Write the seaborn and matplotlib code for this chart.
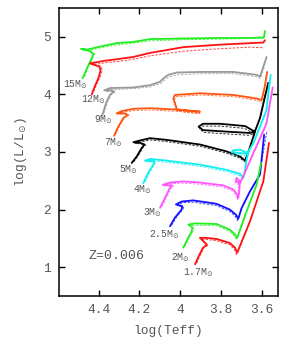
import matplotlib
matplotlib.use('Agg')
import matplotlib.pyplot as plt
import seaborn as sns

# evolutionary tracks, log(Teff) / log(L/Lsun), solid + dashed model
t15 = [4.479, 4.457, 4.438, 4.426, 4.448, 4.487, 4.453, 4.394, 4.312, 4.232, 4.148, 3.986, 3.805, 3.658, 3.589, 3.584]
l15 = [4.28, 4.46, 4.60, 4.70, 4.76, 4.79, 4.78, 4.83, 4.89, 4.91, 4.96, 4.97, 4.98, 4.98, 4.99, 5.10]
t15d = [4.470, 4.450, 4.430, 4.420, 4.440, 4.480, 4.445, 4.390, 4.310, 4.230, 4.148, 3.986, 3.805, 3.658, 3.592]
l15d = [4.31, 4.48, 4.62, 4.71, 4.75, 4.77, 4.76, 4.81, 4.86, 4.89, 4.93, 4.95, 4.96, 4.97, 4.97]

t12 = [4.434, 4.418, 4.402, 4.391, 4.396, 4.443, 4.408, 4.379, 4.312, 4.230, 4.148, 3.985, 3.821, 3.657, 3.592, 3.584]
l12 = [4.00, 4.15, 4.28, 4.41, 4.48, 4.54, 4.56, 4.58, 4.61, 4.65, 4.72, 4.82, 4.86, 4.89, 4.90, 4.94]
t12d = [4.425, 4.408, 4.392, 4.383, 4.39, 4.435, 4.40, 4.37, 4.31, 4.23, 4.148, 3.985, 3.821, 3.657, 3.595]
l12d = [4.05, 4.19, 4.31, 4.43, 4.49, 4.52, 4.53, 4.55, 4.57, 4.61, 4.67, 4.75, 4.79, 4.82, 4.81]

t9 = [4.382, 4.364, 4.345, 4.325, 4.336, 4.373, 4.345, 4.230, 4.148, 4.099, 4.075, 4.058, 4.017, 3.903, 3.739, 3.625, 3.608, 3.592, 3.576]
l9 = [3.64, 3.85, 3.99, 4.05, 4.07, 4.07, 4.11, 4.12, 4.16, 4.22, 4.30, 4.34, 4.38, 4.39, 4.39, 4.34, 4.31, 4.48, 4.65]
t9d = [4.375, 4.357, 4.338, 4.320, 4.33, 4.365, 4.34, 4.23, 4.148, 4.095, 4.07, 4.05, 4.01, 3.90, 3.74, 3.63, 3.605, 3.59, 3.58]
l9d = [3.67, 3.87, 4.00, 4.04, 4.05, 4.05, 4.08, 4.10, 4.13, 4.19, 4.27, 4.31, 4.34, 4.36, 4.36, 4.31, 4.28, 4.45, 4.60]

t7 = [4.325, 4.304, 4.279, 4.258, 4.271, 4.312, 4.287, 4.230, 4.148, 3.985, 3.903, 3.952, 4.017, 4.034, 4.026, 3.903, 3.739, 3.625, 3.600, 3.584, 3.573]
l7 = [3.28, 3.44, 3.59, 3.64, 3.67, 3.67, 3.71, 3.75, 3.76, 3.73, 3.70, 3.71, 3.74, 3.93, 3.99, 4.02, 3.99, 3.93, 3.90, 4.15, 4.39]
t7d = [4.318, 4.297, 4.272, 4.252, 4.265, 4.305, 4.282, 4.228, 4.148, 3.985, 3.903, 3.952, 4.012, 4.028, 4.020, 3.903, 3.739, 3.628, 3.603, 3.588, 3.578]
l7d = [3.30, 3.46, 3.60, 3.64, 3.66, 3.66, 3.69, 3.72, 3.73, 3.70, 3.67, 3.68, 3.71, 3.91, 3.96, 3.99, 3.96, 3.90, 3.87, 4.10, 4.30]

t5 = [4.238, 4.214, 4.189, 4.175, 4.197, 4.230, 4.197, 4.148, 4.066, 3.903, 3.772, 3.706, 3.681, 3.662, 3.633, 3.681, 3.805, 3.888, 3.910, 3.888, 3.756, 3.657, 3.633, 3.608, 3.568]
l5 = [2.81, 2.92, 3.07, 3.13, 3.16, 3.17, 3.20, 3.24, 3.21, 3.13, 3.01, 2.92, 2.85, 3.04, 3.35, 3.45, 3.49, 3.49, 3.44, 3.38, 3.35, 3.33, 3.36, 3.59, 4.20]
t5d = [4.228, 4.205, 4.182, 4.170, 4.190, 4.222, 4.190, 4.148, 4.066, 3.903, 3.772, 3.706, 3.684, 3.665, 3.636, 3.684, 3.805, 3.888, 3.905, 3.885, 3.756, 3.662, 3.640, 3.615, 3.580]
l5d = [2.83, 2.94, 3.08, 3.12, 3.14, 3.15, 3.18, 3.21, 3.18, 3.10, 2.98, 2.89, 2.83, 3.01, 3.31, 3.41, 3.45, 3.45, 3.40, 3.34, 3.31, 3.29, 3.31, 3.52, 4.05]

t4 = [4.181, 4.157, 4.132, 4.127, 4.173, 4.148, 4.066, 3.903, 3.772, 3.706, 3.690, 3.681, 3.674, 3.666, 3.707, 3.739, 3.747, 3.707, 3.674, 3.641, 3.576, 3.556]
l4 = [2.46, 2.64, 2.78, 2.84, 2.85, 2.88, 2.85, 2.78, 2.69, 2.62, 2.55, 2.69, 2.87, 2.98, 3.04, 3.03, 3.00, 2.98, 2.97, 3.15, 3.73, 4.34]
t4d = [4.172, 4.148, 4.125, 4.120, 4.165, 4.140, 4.066, 3.903, 3.772, 3.708, 3.694, 3.685, 3.678, 3.670, 3.710, 3.742, 3.750, 3.710, 3.678, 3.646, 3.582, 3.565]
l4d = [2.48, 2.65, 2.79, 2.83, 2.83, 2.85, 2.82, 2.75, 2.66, 2.59, 2.52, 2.66, 2.84, 2.95, 3.00, 2.99, 2.96, 2.94, 2.93, 3.10, 3.65, 4.20]

t3 = [4.099, 4.075, 4.050, 4.040, 4.086, 4.050, 3.985, 3.903, 3.789, 3.739, 3.720, 3.715, 3.710, 3.707, 3.724, 3.726, 3.707, 3.690, 3.641, 3.576, 3.546]
l3 = [2.03, 2.20, 2.38, 2.42, 2.43, 2.47, 2.49, 2.47, 2.42, 2.35, 2.26, 2.20, 2.32, 2.49, 2.55, 2.49, 2.46, 2.58, 2.98, 3.50, 4.12]
t3d = [4.090, 4.066, 4.042, 4.033, 4.078, 4.044, 3.985, 3.903, 3.789, 3.742, 3.724, 3.719, 3.714, 3.711, 3.728, 3.730, 3.711, 3.695, 3.646, 3.582, 3.552]
l3d = [2.05, 2.22, 2.39, 2.41, 2.41, 2.45, 2.46, 2.44, 2.39, 2.32, 2.23, 2.17, 2.29, 2.46, 2.52, 2.46, 2.43, 2.55, 2.93, 3.42, 4.00]

t25 = [4.050, 4.026, 3.993, 3.990, 4.021, 3.993, 3.936, 3.821, 3.756, 3.726, 3.715, 3.698, 3.657, 3.608, 3.588]
l25 = [1.71, 1.86, 2.00, 2.06, 2.09, 2.14, 2.16, 2.10, 2.00, 1.91, 1.84, 2.03, 2.32, 2.61, 3.30]
t25d = [4.042, 4.018, 3.986, 3.984, 4.014, 3.988, 3.936, 3.821, 3.756, 3.729, 3.719, 3.702, 3.661, 3.612, 3.575]
l25d = [1.73, 1.87, 2.01, 2.04, 2.07, 2.12, 2.13, 2.07, 1.97, 1.88, 1.81, 2.00, 2.29, 2.58, 3.35]

t2 = [3.985, 3.965, 3.944, 3.940, 3.960, 3.927, 3.821, 3.756, 3.731, 3.720, 3.674, 3.625, 3.603]
l2 = [1.34, 1.48, 1.62, 1.69, 1.74, 1.76, 1.75, 1.65, 1.57, 1.51, 1.97, 2.43, 2.81]
t2d = [3.977, 3.958, 3.937, 3.934, 3.953, 3.924, 3.821, 3.756, 3.734, 3.724, 3.678]
l2d = [1.36, 1.49, 1.63, 1.67, 1.72, 1.73, 1.72, 1.62, 1.54, 1.48, 1.94]

t17 = [3.927, 3.908, 3.888, 3.869, 3.903, 3.873, 3.821, 3.756, 3.731, 3.720, 3.657, 3.592, 3.564]
l17 = [1.05, 1.20, 1.34, 1.39, 1.51, 1.51, 1.49, 1.42, 1.34, 1.25, 1.80, 2.49, 3.16]
t17d = [3.919, 3.900, 3.881, 3.863, 3.896, 3.869, 3.821, 3.756, 3.734, 3.724, 3.662]
l17d = [1.07, 1.22, 1.35, 1.38, 1.48, 1.48, 1.46, 1.39, 1.31, 1.22, 1.76]

masses = ['15', '12', '9', '7', '5', '4', '3', '2.5', '2', '1.7']
colors = ['#22ee22', '#ff1111', '#999999', '#ff5511', '#000000',
          '#11eeee', '#ff55ff', '#1111ff', '#22ee22', '#ff1111']
# label anchor (right end, baseline)
lab_t = [4.456, 4.364, 4.331, 4.282, 4.206, 4.140, 4.091, 4.004, 3.955, 3.838]
lab_l = [4.124, 3.857, 3.511, 3.113, 2.645, 2.299, 1.900, 1.526, 1.121, 0.856]

solid = [(t15, l15), (t12, l12), (t9, l9), (t7, l7), (t5, l5),
         (t4, l4), (t3, l3), (t25, l25), (t2, l2), (t17, l17)]
dashed = [(t15d, l15d), (t12d, l12d), (t9d, l9d), (t7d, l7d), (t5d, l5d),
          (t4d, l4d), (t3d, l3d), (t25d, l25d), (t2d, l2d), (t17d, l17d)]

sns.set_style('ticks')
plt.rcParams['font.family'] = ['Liberation Mono', 'DejaVu Sans']
plt.rcParams['mathtext.fontset'] = 'dejavusans'

fig = plt.figure(figsize=(2.99, 3.46), dpi=100)
ax = fig.add_axes([0.1973, 0.1445, 0.7324, 0.8324])

txt = '#555555'
for i in range(len(masses)):
    td, ld = dashed[i]
    sns.lineplot(x=td, y=ld, sort=False, estimator=None, color=colors[i],
                 lw=0.7, linestyle=(0, (2.5, 1.5)), alpha=0.8, ax=ax)
    ts, ls = solid[i]
    sns.lineplot(x=ts, y=ls, sort=False, estimator=None, color=colors[i],
                 lw=1.3, ax=ax)
    ax.text(lab_t[i], lab_l[i], masses[i] + r'M$_{\odot}$', ha='right',
            va='baseline', fontsize=7, color=txt)

ax.text(4.451, 1.151, 'Z=0.006', fontsize=9.5, color=txt, va='baseline')

ax.set_xlim(4.595, 3.52)
ax.set_ylim(0.5, 5.5)
ax.set_xticks([4.4, 4.2, 4.0, 3.8, 3.6])
ax.set_xticklabels(['4.4', '4.2', '4', '3.8', '3.6'])
ax.set_yticks([1, 2, 3, 4, 5])
ax.set_xlabel('log(Teff)', fontsize=9.3, color=txt, labelpad=6)
ax.set_ylabel(r'log(L/L$_{\odot}$)', fontsize=9.3, color=txt, labelpad=10)
ax.tick_params(direction='in', length=4, width=1, top=True, right=True,
               labelsize=9.3, labelcolor=txt, pad=6, color='black')
for s in ax.spines.values():
    s.set_linewidth(1.1)
    s.set_color('black')

fig.savefig('out.png', dpi=100)
